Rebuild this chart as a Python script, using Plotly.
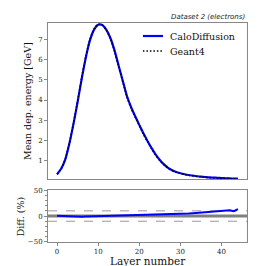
import plotly.graph_objects as go

layers = list(range(45))
geant4 = [0.30, 0.57, 1.05, 1.85, 2.85, 3.95, 5.12, 6.18, 7.03, 7.55,
          7.77, 7.74, 7.48, 7.05, 6.42, 5.65, 4.90, 4.15, 3.60, 3.15,
          2.72, 2.30, 1.92, 1.57, 1.25, 0.98, 0.77, 0.60, 0.48, 0.40,
          0.34, 0.29, 0.25, 0.22, 0.19, 0.17, 0.15, 0.13, 0.12, 0.11,
          0.10, 0.09, 0.08, 0.075, 0.07]
calodiffusion = [0.30, 0.57, 1.04, 1.83, 2.81, 3.90, 5.06, 6.12, 6.97, 7.51,
                 7.75, 7.74, 7.50, 7.08, 6.46, 5.70, 4.95, 4.20, 3.65, 3.19,
                 2.76, 2.34, 1.96, 1.60, 1.28, 1.01, 0.79, 0.62, 0.50, 0.41,
                 0.35, 0.30, 0.26, 0.23, 0.20, 0.18, 0.16, 0.14, 0.13, 0.12,
                 0.11, 0.10, 0.09, 0.082, 0.08]
diff_pct = [0.5, 0.0, -0.5, -1.0, -1.3, -1.3, -1.2, -1.0, -0.8, -0.5,
            -0.2, 0.0, 0.2, 0.4, 0.6, 0.8, 1.0, 1.1, 1.3, 1.4,
            1.5, 1.7, 1.9, 2.1, 2.3, 2.5, 2.7, 2.9, 3.2, 3.5,
            4.0, 4.5, 5.0, 5.6, 6.2, 6.8, 7.5, 8.3, 9.2, 10.0,
            10.5, 10.8, 11.3, 9.5, 13.5]
band = 10
legend_names = ["CaloDiffusion", "Geant4"]

SERIF = "DejaVu Serif"
SANS = "DejaVu Sans"
AX = "#888888"
DOT = "1.5px,2px"
BLUE_LINE = dict(color="blue", width=2.2)
BLACK_LINE = dict(color="black", width=1.5, dash=DOT)
TICKFONT = dict(family=SERIF, size=7, color="#222")

fig = go.Figure()
fig.add_trace(go.Scatter(x=layers, y=calodiffusion, mode="lines", name=legend_names[0],
                         line=dict(**BLUE_LINE, shape="spline", smoothing=0.6),
                         xaxis="x", yaxis="y", showlegend=False))
fig.add_trace(go.Scatter(x=layers, y=geant4, mode="lines", name=legend_names[1],
                         line=dict(**BLACK_LINE, shape="spline", smoothing=0.6),
                         xaxis="x", yaxis="y", showlegend=False))
fig.add_trace(go.Scatter(x=layers, y=diff_pct, mode="lines", showlegend=False,
                         line=dict(color="blue", width=2), xaxis="x2", yaxis="y2"))

fig.add_shape(type="line", xref="x2 domain", yref="y2", x0=0, x1=1, y0=0, y1=0,
              line=dict(color="#808080", width=3), layer="below")
for v in (band, -band):
    fig.add_shape(type="line", xref="x2 domain", yref="y2", x0=0, x1=1, y0=v, y1=v,
                  line=dict(color="#999999", width=1, dash="dash"), layer="below")

# manual legend (compact row spacing like the reference)
for name, style, yy in zip(legend_names, (BLUE_LINE, BLACK_LINE), (0.9406, 0.872)):
    fig.add_shape(type="line", xref="paper", yref="paper", x0=0.477, x1=0.578, y0=yy, y1=yy,
                  line=style)
    fig.add_annotation(text=name, xref="paper", yref="paper", x=0.605, y=yy,
                       xanchor="left", yanchor="middle", showarrow=False,
                       font=dict(family=SERIF, size=9.5, color="#111"))

common_x = dict(range=[-2.2, 46.2], showline=True, linecolor=AX, linewidth=1, mirror=True,
                showgrid=False, zeroline=False, tickvals=[0, 10, 20, 30, 40])
fig.update_layout(
    width=266, height=266,
    margin=dict(l=40, r=27, t=15, b=32),
    paper_bgcolor="white", plot_bgcolor="white",
    xaxis=dict(**common_x, domain=[0, 1], anchor="y", showticklabels=False, ticks=""),
    yaxis=dict(domain=[0.288, 1], range=[0.065, 7.84], tickvals=[1, 2, 3, 4, 5, 6, 7],
               showline=True, linecolor=AX, linewidth=1, mirror=True, showgrid=False,
               zeroline=False, ticks="outside", ticklen=3, tickcolor=AX,
               tickfont=TICKFONT),
    xaxis2=dict(**common_x, domain=[0, 1], anchor="y2", ticks="outside", ticklen=3,
                tickcolor=AX, tickfont=TICKFONT),
    yaxis2=dict(domain=[0, 0.237], range=[-50, 50], tickvals=[-50, 0, 50],
                ticktext=["\u221250", "0", "50"],
                showline=True, linecolor=AX, linewidth=1, mirror=True, showgrid=False,
                zeroline=False, ticks="outside", ticklen=3, tickcolor=AX,
                minor=dict(dtick=10, ticks="outside", ticklen=2, tickcolor=AX),
                tickfont=TICKFONT, anchor="x2"),
    showlegend=False,
)

fig.add_annotation(text="<i>Dataset 2 (electrons)</i>", xref="paper", yref="paper",
                   x=1, y=1, xanchor="right", yanchor="bottom", showarrow=False,
                   font=dict(family=SANS, size=7, color="#222"))
fig.add_annotation(text="Mean dep. energy [GeV]", xref="paper", yref="paper",
                   x=-0.1, y=0.644, xanchor="center", yanchor="middle", textangle=-90,
                   showarrow=False, font=dict(family=SERIF, size=9.5, color="#111"))
fig.add_annotation(text="Diff. (%)", xref="paper", yref="paper",
                   x=-0.14, y=0.118, xanchor="center", yanchor="middle", textangle=-90,
                   showarrow=False, font=dict(family=SERIF, size=9.5, color="#111"))
fig.add_annotation(text="Layer number", xref="paper", yref="paper",
                   x=0.5, y=-0.05, xanchor="center", yanchor="top",
                   showarrow=False, font=dict(family=SERIF, size=10.5, color="#111"))

fig.write_html("out.html")
